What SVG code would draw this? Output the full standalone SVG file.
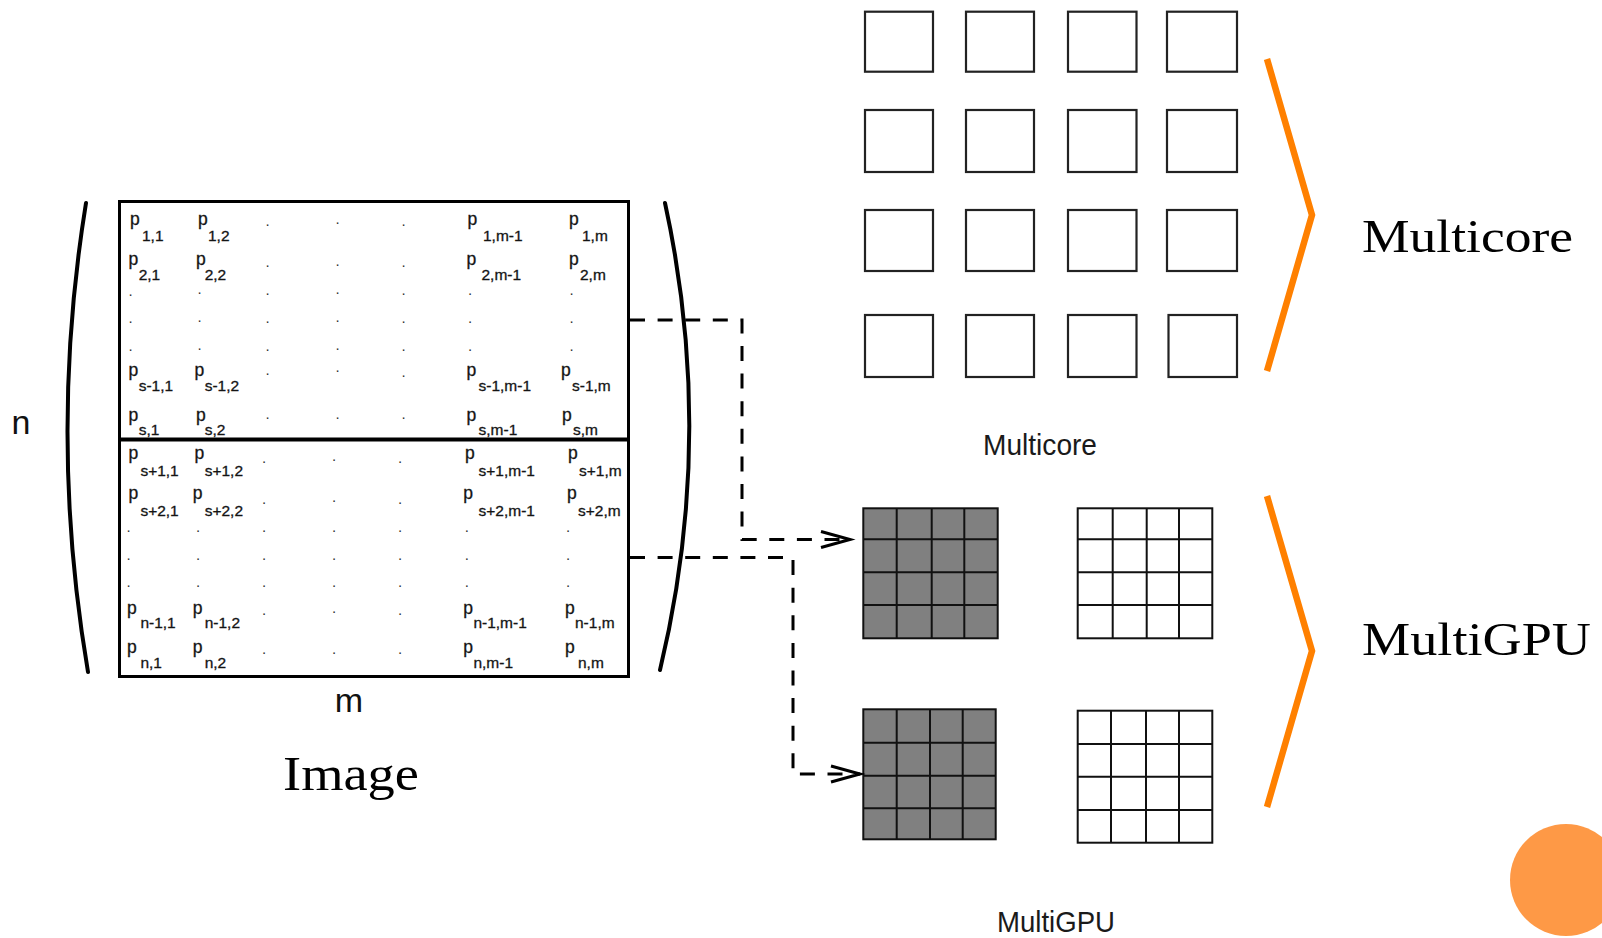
<svg xmlns="http://www.w3.org/2000/svg" width="1602" height="938" viewBox="0 0 1602 938">
<style>
.box{fill:none;stroke:#000;stroke-width:3}
.split{stroke:#000;stroke-width:4}
.paren{fill:none;stroke:#000;stroke-width:4;stroke-linecap:round}
.mx{font-family:"Liberation Sans",Arial,sans-serif;fill:#141414;stroke:#141414;stroke-width:0.3}
.p{font-size:17.5px}
.sub{font-size:15.5px}
.dot{font-family:"Liberation Sans",Arial,sans-serif;font-size:15px;fill:#333}
.axis{font-family:"Liberation Sans",Arial,sans-serif;font-size:34px;fill:#111;text-anchor:middle}
.core{fill:#fff;stroke:#222;stroke-width:2.2}
.gon{fill:#808080;stroke:#111;stroke-width:2}
.goff{fill:#fff;stroke:#111;stroke-width:2}
.gl{stroke:#111;stroke-width:2}
.dash{fill:none;stroke:#000;stroke-width:3;stroke-dasharray:15 12.6}
.brace{fill:none;stroke:#FF8000;stroke-width:6.5;stroke-linejoin:miter;stroke-linecap:butt}
.serif{font-family:"Liberation Serif","Times New Roman",serif;fill:#000}
.sans{font-family:"Liberation Sans",Arial,sans-serif;font-size:30px;fill:#1a1a1a}
</style>
<defs>
<marker id="openArrow" markerUnits="userSpaceOnUse" markerWidth="36" markerHeight="22" refX="29" refY="9" orient="auto" overflow="visible">
<path d="M0,1 L29,9 L0,17" fill="none" stroke="#000" stroke-width="3"/>
</marker>
</defs>

<!-- image matrix -->
<g id="image">
<path class="paren" d="M86,203 Q48,437 88,672"/>
<path class="paren" d="M665,203 Q716,437 660,670"/>
<text class="axis" x="21" y="434">n</text>
<text class="axis" x="349" y="712">m</text>
<rect class="box" x="119.5" y="201.5" width="509" height="475"/>
<line class="split" x1="119.5" y1="439.5" x2="628.5" y2="439.5"/>

<!-- upper block: rows 1 .. s -->
<g class="mx">
<text><tspan class="p" x="130" y="225">p</tspan><tspan class="sub" x="142" y="240.6">1,1</tspan></text>
<text><tspan class="p" x="198" y="225">p</tspan><tspan class="sub" x="208" y="240.6">1,2</tspan></text>
<text><tspan class="p" x="467.5" y="225">p</tspan><tspan class="sub" x="483" y="240.6">1,m-1</tspan></text>
<text><tspan class="p" x="569" y="225">p</tspan><tspan class="sub" x="582" y="240.6">1,m</tspan></text>

<text><tspan class="p" x="128.5" y="264.5">p</tspan><tspan class="sub" x="138.7" y="279.5">2,1</tspan></text>
<text><tspan class="p" x="196" y="264.5">p</tspan><tspan class="sub" x="204.7" y="279.5">2,2</tspan></text>
<text><tspan class="p" x="466.5" y="264.5">p</tspan><tspan class="sub" x="481.5" y="279.5">2,m-1</tspan></text>
<text><tspan class="p" x="569" y="264.5">p</tspan><tspan class="sub" x="580" y="279.5">2,m</tspan></text>

<text><tspan class="p" x="128.5" y="376">p</tspan><tspan class="sub" x="138.7" y="391">s-1,1</tspan></text>
<text><tspan class="p" x="194.5" y="376">p</tspan><tspan class="sub" x="204.7" y="391">s-1,2</tspan></text>
<text><tspan class="p" x="466.5" y="376">p</tspan><tspan class="sub" x="478.5" y="391">s-1,m-1</tspan></text>
<text><tspan class="p" x="561" y="376">p</tspan><tspan class="sub" x="572" y="391">s-1,m</tspan></text>

<text><tspan class="p" x="128.5" y="420.8">p</tspan><tspan class="sub" x="138.7" y="435">s,1</tspan></text>
<text><tspan class="p" x="196" y="420.8">p</tspan><tspan class="sub" x="204.7" y="435">s,2</tspan></text>
<text><tspan class="p" x="466.5" y="420.8">p</tspan><tspan class="sub" x="478.5" y="435">s,m-1</tspan></text>
<text><tspan class="p" x="562" y="420.8">p</tspan><tspan class="sub" x="573" y="435">s,m</tspan></text>
</g>

<!-- lower block: rows s+1 .. n -->
<g class="mx">
<text><tspan class="p" x="128.5" y="458.7">p</tspan><tspan class="sub" x="140.4" y="475.6">s+1,1</tspan></text>
<text><tspan class="p" x="194.5" y="458.7">p</tspan><tspan class="sub" x="204.7" y="475.6">s+1,2</tspan></text>
<text><tspan class="p" x="465" y="458.7">p</tspan><tspan class="sub" x="478.5" y="475.6">s+1,m-1</tspan></text>
<text><tspan class="p" x="568" y="458.7">p</tspan><tspan class="sub" x="579" y="475.6">s+1,m</tspan></text>

<text><tspan class="p" x="128.5" y="499.3">p</tspan><tspan class="sub" x="140.4" y="516">s+2,1</tspan></text>
<text><tspan class="p" x="192.8" y="499.3">p</tspan><tspan class="sub" x="204.7" y="516">s+2,2</tspan></text>
<text><tspan class="p" x="463.3" y="499.3">p</tspan><tspan class="sub" x="478.5" y="516">s+2,m-1</tspan></text>
<text><tspan class="p" x="567" y="499.3">p</tspan><tspan class="sub" x="578" y="516">s+2,m</tspan></text>

<text><tspan class="p" x="127" y="614.2">p</tspan><tspan class="sub" x="140.4" y="628">n-1,1</tspan></text>
<text><tspan class="p" x="192.8" y="614.2">p</tspan><tspan class="sub" x="204.7" y="628">n-1,2</tspan></text>
<text><tspan class="p" x="463.3" y="614.2">p</tspan><tspan class="sub" x="473.4" y="628">n-1,m-1</tspan></text>
<text><tspan class="p" x="565" y="614.2">p</tspan><tspan class="sub" x="575" y="628">n-1,m</tspan></text>

<text><tspan class="p" x="127" y="653">p</tspan><tspan class="sub" x="140.4" y="668">n,1</tspan></text>
<text><tspan class="p" x="192.8" y="653">p</tspan><tspan class="sub" x="204.7" y="668">n,2</tspan></text>
<text><tspan class="p" x="463.3" y="653">p</tspan><tspan class="sub" x="473.4" y="668">n,m-1</tspan></text>
<text><tspan class="p" x="565" y="653">p</tspan><tspan class="sub" x="578" y="668">n,m</tspan></text>
</g>

<!-- ellipsis dots -->
<g class="dot">
<text x="265.5" y="226">.</text><text x="335.5" y="224">.</text><text x="401.5" y="226">.</text>
<text x="265.5" y="267">.</text><text x="335.5" y="265.5">.</text><text x="401.5" y="267">.</text>
<text x="128.5" y="295.5">.</text><text x="197.5" y="294">.</text><text x="265.5" y="295">.</text><text x="335.5" y="294">.</text><text x="401.5" y="295">.</text><text x="468" y="295">.</text><text x="569.5" y="295">.</text>
<text x="128.5" y="323">.</text><text x="197.5" y="322">.</text><text x="265.5" y="323">.</text><text x="335.5" y="322">.</text><text x="401.5" y="323">.</text><text x="468" y="323">.</text><text x="569.5" y="323">.</text>
<text x="128.5" y="351">.</text><text x="197.5" y="350">.</text><text x="265.5" y="351">.</text><text x="335.5" y="350">.</text><text x="401.5" y="351">.</text><text x="468" y="351">.</text><text x="569.5" y="351">.</text>
<text x="265.5" y="375">.</text><text x="335.5" y="372">.</text><text x="401.5" y="377">.</text>
<text x="265.5" y="419">.</text><text x="335.5" y="419">.</text><text x="401.5" y="419">.</text>

<text x="262" y="463">.</text><text x="332" y="461">.</text><text x="398" y="463">.</text>
<text x="262" y="503.7">.</text><text x="332" y="502">.</text><text x="398" y="503.7">.</text>
<text x="126.6" y="532.4">.</text><text x="196" y="532.4">.</text><text x="262" y="532.4">.</text><text x="332" y="532.4">.</text><text x="398" y="532.4">.</text><text x="464.7" y="532.4">.</text><text x="566" y="532.4">.</text>
<text x="126.6" y="559.5">.</text><text x="196" y="559.5">.</text><text x="262" y="559.5">.</text><text x="332" y="559.5">.</text><text x="398" y="559.5">.</text><text x="464.7" y="559.5">.</text><text x="566" y="559.5">.</text>
<text x="126.6" y="587">.</text><text x="196" y="587">.</text><text x="262" y="587">.</text><text x="332" y="587">.</text><text x="398" y="587">.</text><text x="464.7" y="587">.</text><text x="566" y="587">.</text>
<text x="262" y="615">.</text><text x="332" y="613">.</text><text x="398" y="615">.</text>
<text x="262" y="654">.</text><text x="332" y="654">.</text><text x="398" y="654">.</text>
</g>

<text class="serif" x="283" y="790" font-size="48" textLength="136" lengthAdjust="spacingAndGlyphs">Image</text>
</g>

<!-- multicore: 4 x 4 independent cores -->
<g id="multicore">
<rect class="core" x="865" y="11.7" width="68" height="60"/>
<rect class="core" x="966" y="11.7" width="68" height="60"/>
<rect class="core" x="1068" y="11.7" width="68.5" height="60"/>
<rect class="core" x="1167" y="11.7" width="70" height="60"/>
<rect class="core" x="865" y="110" width="68" height="62"/>
<rect class="core" x="966" y="110" width="68" height="62"/>
<rect class="core" x="1068" y="110" width="68.5" height="62"/>
<rect class="core" x="1167" y="110" width="70" height="62"/>
<rect class="core" x="865" y="210" width="68" height="61"/>
<rect class="core" x="966" y="210" width="68" height="61"/>
<rect class="core" x="1068" y="210" width="68.5" height="61"/>
<rect class="core" x="1167" y="210" width="70" height="61"/>
<rect class="core" x="865" y="315" width="68" height="62"/>
<rect class="core" x="966" y="315" width="68" height="62"/>
<rect class="core" x="1068" y="315" width="68.5" height="62"/>
<rect class="core" x="1168.5" y="315" width="68.5" height="62"/>
<text class="sans" x="983" y="455" textLength="114" lengthAdjust="spacingAndGlyphs">Multicore</text>
</g>

<!-- multi-GPU: two devices, each a pair of 4 x 4 grids -->
<g id="gpu-top-active">
<rect class="gon" x="863.3" y="508.3" width="134.4" height="130"/>
<path class="gl" d="M896.7,508.3V638.3M931.7,508.3V638.3M964.3,508.3V638.3M863.3,539.3H997.7M863.3,572.3H997.7M863.3,605H997.7"/>
</g>
<g id="gpu-top-idle">
<rect class="goff" x="1077.7" y="508.3" width="134.6" height="130"/>
<path class="gl" d="M1112.7,508.3V638.3M1146.7,508.3V638.3M1179,508.3V638.3M1077.7,539.3H1212.3M1077.7,572.3H1212.3M1077.7,605H1212.3"/>
</g>
<g id="gpu-bottom-active">
<rect class="gon" x="863.3" y="709.3" width="132.4" height="130"/>
<path class="gl" d="M896.7,709.3V839.3M930,709.3V839.3M962.7,709.3V839.3M863.3,742.7H995.7M863.3,775.7H995.7M863.3,808.3H995.7"/>
</g>
<g id="gpu-bottom-idle">
<rect class="goff" x="1077.7" y="710.7" width="134.6" height="132"/>
<path class="gl" d="M1111,710.7V842.7M1146,710.7V842.7M1179,710.7V842.7M1077.7,744H1212.3M1077.7,776.7H1212.3M1077.7,810H1212.3"/>
</g>
<text id="multigpu-label" class="sans" x="997" y="932" textLength="118" lengthAdjust="spacingAndGlyphs">MultiGPU</text>

<!-- connectors from the two image halves to the GPUs -->
<g id="connectors">
<path class="dash" d="M630,320H742V539.5H850" marker-end="url(#openArrow)"/>
<path class="dash" d="M630,557.5H793V774H860" marker-end="url(#openArrow)"/>
</g>

<!-- orange group brackets with titles -->
<g id="group-multicore">
<path class="brace" d="M1267,59L1312,215L1267,371"/>
<text class="serif" x="1362" y="252" font-size="46" textLength="211" lengthAdjust="spacingAndGlyphs">Multicore</text>
</g>
<g id="group-multigpu">
<path class="brace" d="M1267,496L1312,651L1267,807"/>
<text class="serif" x="1362" y="655" font-size="46" textLength="229" lengthAdjust="spacingAndGlyphs">MultiGPU</text>
</g>

<circle id="corner-dot" cx="1566" cy="880" r="56" fill="#FE9946"/>
</svg>
